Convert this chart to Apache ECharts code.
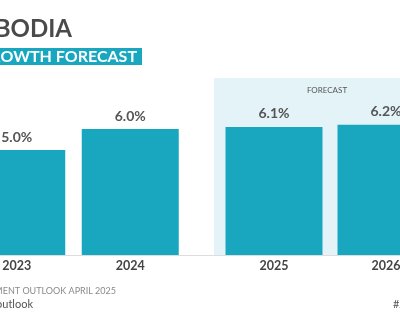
<!DOCTYPE html>
<html>
<head>
<meta charset="utf-8">
<script src="https://cdn.jsdelivr.net/npm/echarts@6/dist/echarts.min.js"></script>
<style>html,body{margin:0;padding:0;background:#fff}#c{width:400px;height:323px}</style>
</head>
<body>
<div id="c"></div>
<script>
const actualYears = ['2023', '2024'];
const actualGrowth = [5.0, 6.0];
const forecastYears = ['2025', '2026'];
const forecastGrowth = [6.1, 6.2];

const BAR = '#19a7c0';
const FONT = 'Lato';
const chart = echarts.init(document.getElementById('c'), null, {renderer: 'canvas'});

const labelCfg = {
  show: true, position: 'top', distance: 6,
  fontFamily: FONT, fontWeight: 'bold', fontSize: 14, color: '#555',
  formatter: p => p.value.toFixed(1) + '%'
};
const xAxisBase = {
  type: 'category',
  axisTick: {show: false},
  axisLine: {show: true, lineStyle: {color: '#dddddd', width: 1}},
  axisLabel: {fontFamily: FONT, fontWeight: 'bold', fontSize: 12.5, color: '#444', margin: 4}
};
const yAxisBase = {type: 'value', min: 0, max: 8, show: false, splitLine: {show: false}};

chart.setOption({
  animation: false,
  grid: [
    {left: -40, width: 227, top: 87, bottom: 68, outerBoundsMode: 'none', containLabel: false},
    {left: 218, width: 224, top: 87, bottom: 68, outerBoundsMode: 'none', containLabel: false}
  ],
  xAxis: [
    Object.assign({}, xAxisBase, {gridIndex: 0, data: actualYears}),
    Object.assign({}, xAxisBase, {gridIndex: 1, data: forecastYears})
  ],
  yAxis: [
    Object.assign({}, yAxisBase, {gridIndex: 0}),
    Object.assign({}, yAxisBase, {gridIndex: 1})
  ],
  graphic: [
    {type: 'rect', z: 0, shape: {x: 214, y: 78, width: 300, height: 178}, style: {fill: '#e4f3f8'}},
    {type: 'line', z: 0, shape: {x1: 0, y1: 255.5, x2: 400, y2: 255.5}, style: {stroke: '#dddddd', lineWidth: 1}},
    {type: 'text', z: 5, style: {text: 'FORECAST', x: 327, y: 90, align: 'center', verticalAlign: 'middle',
      font: '8px ' + FONT, fill: '#555'}},
    {type: 'text', z: 5, style: {text: 'CAMBODIA', x: 72, y: 29, align: 'right', verticalAlign: 'middle',
      font: 'bold 24px ' + FONT, fill: '#4a4a4a'}},
    {type: 'rect', z: 4, shape: {x: -60, y: 48, width: 202, height: 17}, style: {fill: '#19a7c0'}},
    {type: 'text', z: 5, style: {text: 'GROWTH FORECAST', x: 137, y: 57, align: 'right', verticalAlign: 'middle',
      font: 'bold 16px ' + FONT, fill: '#ffffff'}},
    {type: 'text', z: 5, style: {text: 'ASIAN DEVELOPMENT OUTLOOK APRIL 2025', x: 116, y: 291, align: 'right', verticalAlign: 'middle',
      font: '9px ' + FONT, fill: '#8a8a8a'}},
    {type: 'text', z: 5, style: {text: 'adb.org/outlook', x: 33, y: 304, align: 'right', verticalAlign: 'middle',
      font: '11px ' + FONT, fill: '#555'}},
    {type: 'text', z: 5, style: {text: '#ADOutlook', x: 393, y: 304, align: 'left', verticalAlign: 'middle',
      font: '11px ' + FONT, fill: '#555'}}
  ],
  series: [
    {type: 'bar', xAxisIndex: 0, yAxisIndex: 0, data: actualGrowth, barWidth: 97, z: 3,
      itemStyle: {color: BAR}, label: labelCfg},
    {type: 'bar', xAxisIndex: 1, yAxisIndex: 1, data: forecastGrowth, barWidth: 97, z: 3,
      itemStyle: {color: BAR}, label: labelCfg}
  ]
});
</script>
</body>
</html>
